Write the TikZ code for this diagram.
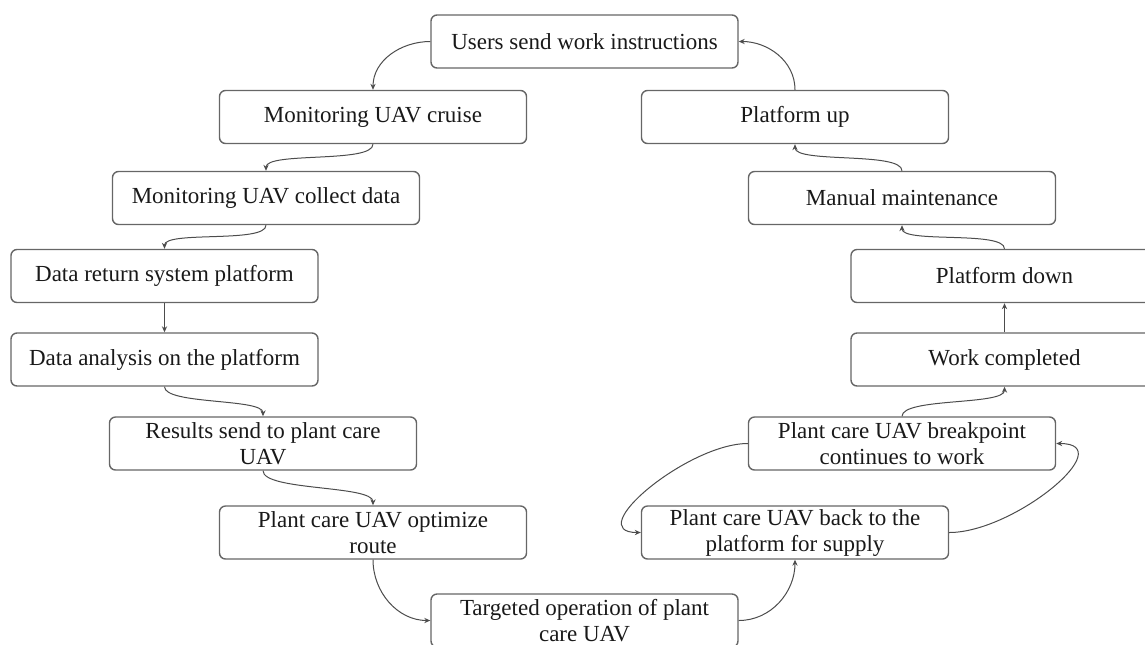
\documentclass[tikz,border=0pt]{standalone}
\usepackage{fontspec}
\setmainfont{Liberation Serif}
\usetikzlibrary{arrows.meta}

\begin{document}
\begin{tikzpicture}[x=0.5pt, y=0.5pt,
    proc/.style={draw=black!60, line width=0.7pt, rounded corners=3pt,
        minimum width=153.5pt, minimum height=26.5pt, inner sep=0.5pt,
        align=center, font=\fontsize{11.5}{13}\selectfont, text=black!90},
    flow/.style={draw=black!70, line width=0.5pt, -{Stealth[length=3pt, width=2.6pt]}},
    slack/.style={looseness=0.45}]

    % Frame of the picture
    \useasboundingbox (0,0) rectangle (1145,-644);
    \clip (0,0) rectangle (1145,-644);

    % Top of the cycle
    \node[proc] (users) at (584.5, -41.5) {Users send work instructions};

    % Left branch: monitoring and analysis
    \node[proc] (cruise) at (373, -117) {Monitoring UAV cruise};
    \node[proc] (collect) at (266, -198) {Monitoring UAV collect data};
    \node[proc] (dataret) at (164.5, -276) {Data return system platform};
    \node[proc] (analysis) at (164.5, -359.5) {Data analysis on the platform};
    \node[proc] (results) at (263, -443.5) {Results send to plant care\\UAV};
    \node[proc] (optimize) at (373, -532.5) {Plant care UAV optimize\\route};

    % Bottom of the cycle
    \node[proc] (targeted) at (584.5, -620.5) {Targeted operation of plant\\care UAV};

    % Right branch: supply and return
    \node[proc] (back) at (795, -532.5) {Plant care UAV back to the\\platform for supply};
    \node[proc] (breakpt) at (902, -443.5) {Plant care UAV breakpoint\\continues to work};
    \node[proc] (done) at (1004.5, -359.5) {Work completed};
    \node[proc] (pfdown) at (1004.5, -276) {Platform down};
    \node[proc] (manual) at (902, -198) {Manual maintenance};
    \node[proc] (pfup) at (795, -117) {Platform up};

    % Connectors, left side
    \draw[flow] (users.west) to[out=180, in=90] (cruise.north);
    \draw[flow] (cruise.south) to[out=-90, in=90, slack] (collect.north);
    \draw[flow] (collect.south) to[out=-90, in=90, slack] (dataret.north);
    \draw[flow] (dataret.south) -- (analysis.north);
    \draw[flow] (analysis.south) to[out=-90, in=90, slack] (results.north);
    \draw[flow] (results.south) to[out=-90, in=90, slack] (optimize.north);
    \draw[flow] (optimize.south) to[out=-90, in=180] (targeted.west);

    % Connectors, right side
    \draw[flow] (targeted.east) to[out=0, in=-90] (back.south);
    \draw[flow] (back.east) to[out=0, in=0, looseness=1.2] (breakpt.east);
    \draw[flow] (breakpt.west) to[out=180, in=180, looseness=1.1] (back.west);
    \draw[flow] (breakpt.north) to[out=90, in=-90, slack] (done.south);
    \draw[flow] (done.north) -- (pfdown.south);
    \draw[flow] (pfdown.north) to[out=90, in=-90, slack] (manual.south);
    \draw[flow] (manual.north) to[out=90, in=-90, slack] (pfup.south);
    \draw[flow] (pfup.north) to[out=90, in=0] (users.east);
\end{tikzpicture}
\end{document}
